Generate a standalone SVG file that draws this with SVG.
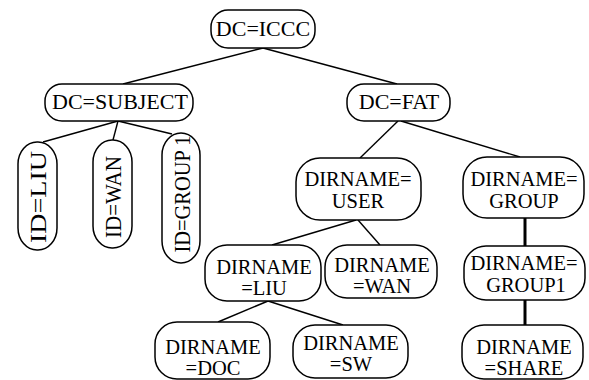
<svg xmlns="http://www.w3.org/2000/svg" width="589" height="380" viewBox="0 0 589 380">
  <style>
    .box { fill: #fff; stroke: #000; stroke-width: 1.5; }
    .t { font-family: "Liberation Serif", "Times New Roman", serif; fill: #000; text-anchor: middle; }
    .dc { font-size: 22px; }
    .dn { font-size: 20.5px; }
    .id { font-size: 24px; }
    .edge { stroke: #000; stroke-width: 1.4; fill: none; }
    .thick { stroke: #000; stroke-width: 3; fill: none; }
  </style>
  <rect width="589" height="380" fill="#fff"/>

  <!-- tree edges -->
  <g id="connectors">
    <line class="edge" x1="263" y1="48" x2="123" y2="84"/>
    <line class="edge" x1="263" y1="48" x2="397" y2="84"/>
    <line class="edge" x1="118" y1="121" x2="43" y2="142"/>
    <line class="edge" x1="118" y1="121" x2="113" y2="140"/>
    <line class="edge" x1="118" y1="121" x2="172" y2="134"/>
    <line class="edge" x1="398" y1="121" x2="360" y2="158"/>
    <line class="edge" x1="401" y1="121" x2="520" y2="157"/>
    <line class="edge" x1="356" y1="220" x2="272" y2="245"/>
    <line class="edge" x1="358" y1="220" x2="380" y2="245"/>
    <line class="edge" x1="268" y1="301" x2="218" y2="322"/>
    <line class="edge" x1="268" y1="301" x2="343" y2="325"/>
    <line class="thick" x1="525" y1="218" x2="525" y2="246"/>
    <line class="thick" x1="525" y1="300" x2="525" y2="325"/>
  </g>

  <g id="dc-iccc">
    <rect class="box" x="211" y="10" width="104" height="38" rx="17"/>
    <text class="t dc" x="263" y="36">DC=ICCC</text>
  </g>
  <g id="dc-subject">
    <rect class="box" x="45" y="84" width="148" height="37" rx="17"/>
    <text class="t dc" x="120" y="109">DC=SUBJECT</text>
  </g>
  <g id="dc-fat">
    <rect class="box" x="347" y="84" width="103" height="37" rx="17"/>
    <text class="t dc" x="399" y="109">DC=FAT</text>
  </g>

  <g id="id-liu">
    <rect class="box" x="18" y="142" width="39" height="108" rx="19" ry="22"/>
    <text class="t id" transform="translate(45.5,197) rotate(-90)" textLength="92" lengthAdjust="spacingAndGlyphs">ID=LIU</text>
  </g>
  <g id="id-wan">
    <rect class="box" x="93" y="140" width="39" height="108" rx="19" ry="22"/>
    <text class="t id" transform="translate(121,197) rotate(-90)" textLength="82" lengthAdjust="spacingAndGlyphs">ID=WAN</text>
  </g>
  <g id="id-group1">
    <rect class="box" x="162" y="133" width="38" height="130" rx="19" ry="22"/>
    <text class="t id" transform="translate(190,194) rotate(-90)" textLength="117" lengthAdjust="spacingAndGlyphs">ID=GROUP 1</text>
  </g>

  <g id="dirname-user">
    <rect class="box" x="296" y="158" width="125" height="62" rx="24"/>
    <text class="t dn" x="358" y="186">DIRNAME=</text>
    <text class="t dn" x="358" y="208">USER</text>
  </g>
  <g id="dirname-group">
    <rect class="box" x="463" y="157" width="121" height="61" rx="24"/>
    <text class="t dn" x="524" y="186">DIRNAME=</text>
    <text class="t dn" x="524" y="208">GROUP</text>
  </g>
  <g id="dirname-group1">
    <rect class="box" x="464" y="246" width="121" height="54" rx="22"/>
    <text class="t dn" x="524" y="270">DIRNAME=</text>
    <text class="t dn" x="526" y="292">GROUP1</text>
  </g>
  <g id="dirname-share">
    <rect class="box" x="462" y="325" width="121" height="54" rx="22"/>
    <text class="t dn" x="524" y="354">DIRNAME</text>
    <text class="t dn" x="524" y="375">=SHARE</text>
  </g>
  <g id="dirname-liu">
    <rect class="box" x="205" y="245" width="116" height="56" rx="22"/>
    <text class="t dn" x="264" y="274">DIRNAME</text>
    <text class="t dn" x="264" y="295">=LIU</text>
  </g>
  <g id="dirname-wan">
    <rect class="box" x="325" y="245" width="112" height="53" rx="22"/>
    <text class="t dn" x="382" y="272">DIRNAME</text>
    <text class="t dn" x="382" y="293">=WAN</text>
  </g>
  <g id="dirname-doc">
    <rect class="box" x="155" y="322" width="115" height="57" rx="22"/>
    <text class="t dn" x="213" y="354">DIRNAME</text>
    <text class="t dn" x="213" y="375">=DOC</text>
  </g>
  <g id="dirname-sw">
    <rect class="box" x="293" y="325" width="115" height="53" rx="22"/>
    <text class="t dn" x="351" y="350">DIRNAME</text>
    <text class="t dn" x="351" y="371">=SW</text>
  </g>
</svg>
